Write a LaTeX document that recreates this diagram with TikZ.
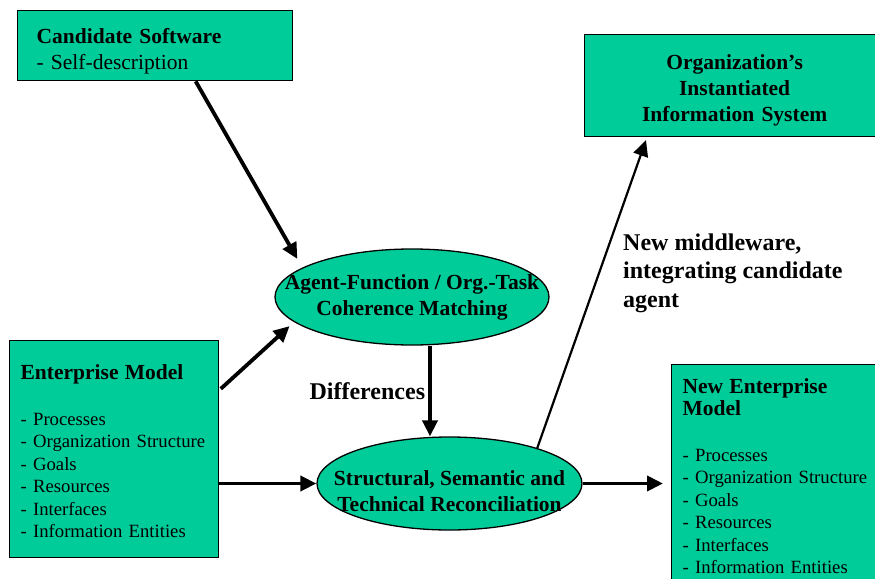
\documentclass[tikz,border=0pt]{standalone}
\usepackage{fontspec}
\setmainfont{Liberation Serif}
\usetikzlibrary{shapes.geometric,arrows.meta}

\definecolor{sea}{HTML}{00CC99}
\newcommand{\hd}{\fontsize{21.5}{26}\selectfont\bfseries}
\newcommand{\lst}{\fontsize{18.7}{22.4}\selectfont}
\newcommand{\lbl}{\fontsize{24}{28.5}\selectfont\bfseries}

\begin{document}
\begin{tikzpicture}[x=1pt,y=-1pt,
	box/.style={draw, line width=1.3pt, fill=sea, rectangle, anchor=north west, inner sep=0pt},
	oval/.style={draw, line width=1.3pt, fill=sea, ellipse, inner sep=0pt},
	flow/.style={line width=3.8pt, arrows={-Triangle[length=16pt,width=15pt]}}]
	\useasboundingbox (0,0) rectangle (875,578);

	% boxes (the rules push the first line down a bit)
	\node[box, minimum width=275pt, minimum height=70pt, text width=237pt, inner xsep=19pt, align=left, font=\hd] (cand) at (17,10) {\rule{0pt}{27pt}Candidate Software\\\mdseries - Self-description};
	\node[box, minimum width=300pt, minimum height=102pt, text width=300pt, align=center, font=\hd] (org) at (584,34) {\rule{0pt}{25pt}Organization's\\Instantiated\\Information System};
	\node[box, minimum width=209pt, minimum height=217pt, text width=187pt, inner xsep=11pt, align=left, font=\lst] (ent) at (9,340) {\rule{0pt}{19pt}{\hd Enterprise Model}\\[23.6pt]- Processes\\- Organization Structure\\- Goals\\- Resources\\- Interfaces\\- Information Entities};
	\node[box, minimum width=215pt, minimum height=223pt, text width=193pt, inner xsep=11pt, align=left, font=\lst] (newent) at (671,364) {{\hd New Enterprise}\\{\hd Model}\\[23.3pt]- Processes\\- Organization Structure\\- Goals\\- Resources\\- Interfaces\\- Information Entities};

	% the two matching steps
	\node[oval, minimum width=274pt, minimum height=96pt] (em1) at (412,297) {};
	\node[align=center, font=\hd] (em1t) at (em1) {Agent-Function / Org.-Task\\Coherence Matching};
	\node[oval, minimum width=265pt, minimum height=93pt] (em2) at (449.5,483.5) {};
	\node[align=center, font=\hd] (em2t) at ([yshift=-8pt]em2) {Structural, Semantic and\\Technical Reconciliation};

	% arrows
	\draw[flow, shorten >=10pt] ([xshift=40.5pt]cand.south) -- (em1.165);
	\draw[flow, shorten >=6pt, shorten <=2pt] ([yshift=59pt]ent.east) -- (em1.192);
	\draw[flow] (ent.east |- em2.west) -- (em2.west);
	\draw[flow] ([xshift=18pt]em1.south) -- ([xshift=18pt]em1.south |- em2.north) node[midway, left, font=\lbl, inner sep=3pt] (diff) {Differences};
	\draw[flow, shorten >=8pt] (em2.east) -- (em2.east -| newent.west);
	\draw[flow, line width=2.2pt, shorten >=3pt] (em2.22) -- ([xshift=63pt]org.south west);

	\node[font=\lbl, align=left, anchor=west, inner sep=0pt] (mw) at (623,273) {New middleware,\\integrating candidate\\agent};
\end{tikzpicture}
\end{document}
